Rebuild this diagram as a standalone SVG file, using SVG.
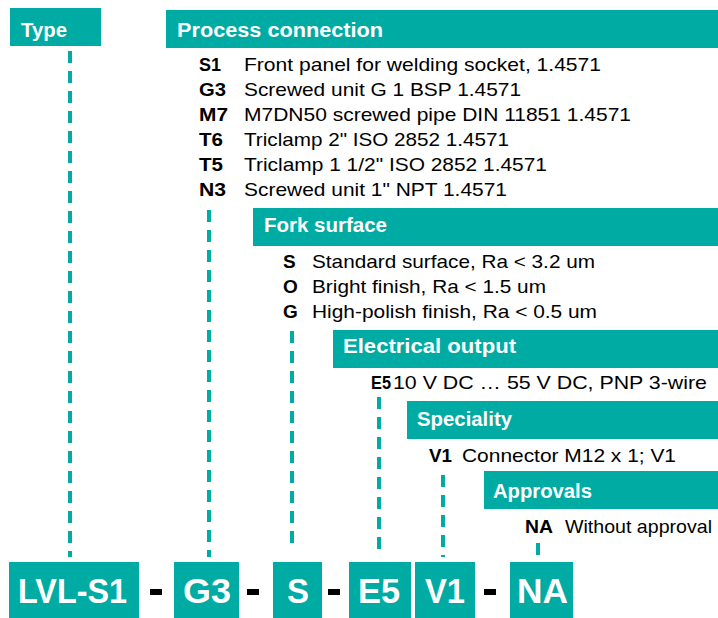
<svg xmlns="http://www.w3.org/2000/svg" width="718" height="618" viewBox="0 0 718 618">
<style>
.box{fill:#00ABA4}
.hd{font-family:"Liberation Sans",Arial,sans-serif;font-weight:bold;font-size:20px;fill:#fff}
.cd{font-family:"Liberation Sans",Arial,sans-serif;font-weight:bold;font-size:19px;fill:#000}
.tx{font-family:"Liberation Sans",Arial,sans-serif;font-size:19px;fill:#000}
.big{font-family:"Liberation Sans",Arial,sans-serif;font-weight:bold;font-size:35px;fill:#fff}
.dash{stroke:#00ABA4;stroke-width:4;stroke-dasharray:12 8;fill:none}
.minus{fill:#000}
</style>
<rect width="718" height="618" fill="#fff"/>
<g id="connectors">
<line class="dash" x1="70" y1="51" x2="70" y2="557"/>
<line class="dash" x1="209" y1="210" x2="209" y2="557"/>
<line class="dash" x1="292" y1="331" x2="292" y2="551"/>
<line class="dash" x1="379" y1="397" x2="379" y2="557"/>
<line class="dash" x1="443" y1="475" x2="443" y2="557"/>
<line class="dash" x1="538" y1="543" x2="538" y2="556"/>
</g>
<g id="type">
<rect class="box" x="10" y="8" width="91" height="38"/>
<text class="hd" x="21" y="37" textLength="46" lengthAdjust="spacingAndGlyphs">Type</text>
</g>
<g id="process-connection">
<rect class="box" x="166" y="10" width="552" height="38"/>
<text class="hd" x="177" y="37" textLength="206" lengthAdjust="spacingAndGlyphs">Process connection</text>
<text class="cd" x="199" y="71" textLength="22" lengthAdjust="spacingAndGlyphs">S1</text><text class="tx" x="244" y="71" textLength="357" lengthAdjust="spacingAndGlyphs">Front panel for welding socket, 1.4571</text>
<text class="cd" x="199" y="96" textLength="27" lengthAdjust="spacingAndGlyphs">G3</text><text class="tx" x="244" y="96" textLength="277" lengthAdjust="spacingAndGlyphs">Screwed unit G 1 BSP 1.4571</text>
<text class="cd" x="199" y="121" textLength="29" lengthAdjust="spacingAndGlyphs">M7</text><text class="tx" x="244" y="121" textLength="387" lengthAdjust="spacingAndGlyphs">M7DN50 screwed pipe DIN 11851 1.4571</text>
<text class="cd" x="199" y="146" textLength="24" lengthAdjust="spacingAndGlyphs">T6</text><text class="tx" x="244" y="146" textLength="265" lengthAdjust="spacingAndGlyphs">Triclamp 2" ISO 2852 1.4571</text>
<text class="cd" x="199" y="171" textLength="24" lengthAdjust="spacingAndGlyphs">T5</text><text class="tx" x="244" y="171" textLength="303" lengthAdjust="spacingAndGlyphs">Triclamp 1 1/2" ISO 2852 1.4571</text>
<text class="cd" x="199" y="196" textLength="27" lengthAdjust="spacingAndGlyphs">N3</text><text class="tx" x="244" y="196" textLength="263" lengthAdjust="spacingAndGlyphs">Screwed unit 1" NPT 1.4571</text>
</g>
<g id="fork-surface">
<rect class="box" x="253" y="208" width="465" height="38"/>
<text class="hd" x="264" y="232" textLength="123" lengthAdjust="spacingAndGlyphs">Fork surface</text>
<text class="cd" x="283" y="268">S</text><text class="tx" x="312" y="268" textLength="283" lengthAdjust="spacingAndGlyphs">Standard surface, Ra &lt; 3.2 um</text>
<text class="cd" x="283" y="293">O</text><text class="tx" x="312" y="293" textLength="234" lengthAdjust="spacingAndGlyphs">Bright finish, Ra &lt; 1.5 um</text>
<text class="cd" x="283" y="318">G</text><text class="tx" x="312" y="318" textLength="285" lengthAdjust="spacingAndGlyphs">High-polish finish, Ra &lt; 0.5 um</text>
</g>
<g id="electrical-output">
<rect class="box" x="333" y="330" width="385" height="38"/>
<text class="hd" x="343" y="353" textLength="173" lengthAdjust="spacingAndGlyphs">Electrical output</text>
<text class="cd" x="371" y="389" textLength="20" lengthAdjust="spacingAndGlyphs">E5</text><text class="tx" x="393" y="389" textLength="314" lengthAdjust="spacingAndGlyphs">10 V DC … 55 V DC, PNP 3-wire</text>
</g>
<g id="speciality">
<rect class="box" x="407" y="401" width="311" height="38"/>
<text class="hd" x="417" y="426" textLength="95" lengthAdjust="spacingAndGlyphs">Speciality</text>
<text class="cd" x="429" y="462" textLength="23" lengthAdjust="spacingAndGlyphs">V1</text><text class="tx" x="462" y="462" textLength="214" lengthAdjust="spacingAndGlyphs">Connector M12 x 1; V1</text>
</g>
<g id="approvals">
<rect class="box" x="484" y="471" width="234" height="38"/>
<text class="hd" x="493" y="498" textLength="99" lengthAdjust="spacingAndGlyphs">Approvals</text>
<text class="cd" x="525" y="533" textLength="28" lengthAdjust="spacingAndGlyphs">NA</text><text class="tx" x="565" y="533" textLength="147" lengthAdjust="spacingAndGlyphs">Without approval</text>
</g>
<g id="code-LVL-S1"><rect class="box" x="9" y="562" width="130" height="56"/><text class="big" x="18" y="603" textLength="109" lengthAdjust="spacingAndGlyphs">LVL-S1</text></g>
<g id="code-G3"><rect class="box" x="174" y="562" width="65" height="56"/><text class="big" x="183" y="603" textLength="48" lengthAdjust="spacingAndGlyphs">G3</text></g>
<g id="code-S"><rect class="box" x="273" y="562" width="49" height="56"/><text class="big" x="287" y="603" textLength="22" lengthAdjust="spacingAndGlyphs">S</text></g>
<g id="code-E5"><rect class="box" x="349" y="562" width="62" height="56"/><text class="big" x="358" y="603" textLength="42" lengthAdjust="spacingAndGlyphs">E5</text></g>
<g id="code-V1"><rect class="box" x="415" y="562" width="60" height="56"/><text class="big" x="425" y="603" textLength="40" lengthAdjust="spacingAndGlyphs">V1</text></g>
<g id="code-NA"><rect class="box" x="510" y="562" width="63" height="56"/><text class="big" x="517" y="603" textLength="51" lengthAdjust="spacingAndGlyphs">NA</text></g>
<g id="separators">
<rect class="minus" x="150" y="589" width="12" height="6"/>
<rect class="minus" x="247" y="589" width="12" height="6"/>
<rect class="minus" x="328" y="589" width="12" height="6"/>
<rect class="minus" x="484" y="589" width="12" height="6"/>
</g>
</svg>
